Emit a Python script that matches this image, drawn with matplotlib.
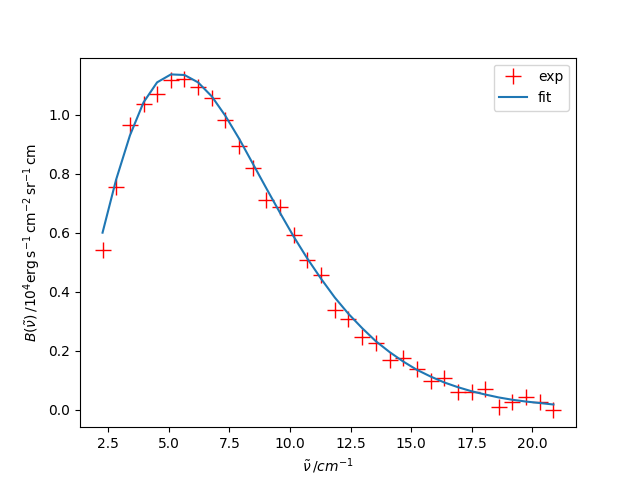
import numpy as np
import matplotlib
matplotlib.use("Agg")
import matplotlib.pyplot as plt

# wavenumber, cm^-1
nu = [2.27, 2.83, 3.40, 3.96, 4.52, 5.09, 5.65, 6.21, 6.78, 7.34,
      7.91, 8.47, 9.03, 9.60, 10.16, 10.72, 11.29, 11.85, 12.41, 12.98,
      13.54, 14.11, 14.67, 15.23, 15.80, 16.36, 16.92, 17.49, 18.05, 18.61,
      19.18, 19.74, 20.31, 20.87]

# measured intensity
B_exp = [0.542, 0.756, 0.966, 1.037, 1.071, 1.119, 1.122, 1.095, 1.058, 0.983,
         0.895, 0.820, 0.712, 0.688, 0.593, 0.508, 0.458, 0.339, 0.308, 0.247,
         0.224, 0.169, 0.176, 0.139, 0.098, 0.108, 0.061, 0.061, 0.068, 0.010,
         0.027, 0.044, 0.024, -0.003]

# fitted curve at the same wavenumbers
B_fit = [0.600, 0.780, 0.930, 1.042, 1.110, 1.137, 1.135, 1.110, 1.062, 0.996,
         0.918, 0.834, 0.750, 0.666, 0.586, 0.512, 0.443, 0.380, 0.325, 0.276,
         0.232, 0.195, 0.163, 0.135, 0.112, 0.092, 0.076, 0.062, 0.051, 0.041,
         0.033, 0.027, 0.022, 0.017]

fig, ax = plt.subplots(figsize=(6.4, 4.8), dpi=100)
ax.plot(nu, B_exp, 'r+', markersize=12, label='exp')
ax.plot(nu, B_fit, label='fit')
ax.set_xlabel(r'$\tilde{\nu}\,/cm^{-1}$')
ax.set_ylabel(r'$B(\tilde{\nu})\,/10^4\mathrm{erg\,s^{-1}\,cm^{-2}\,sr^{-1}\,cm}$')
ax.legend(loc='best')
fig.savefig('out.png')
